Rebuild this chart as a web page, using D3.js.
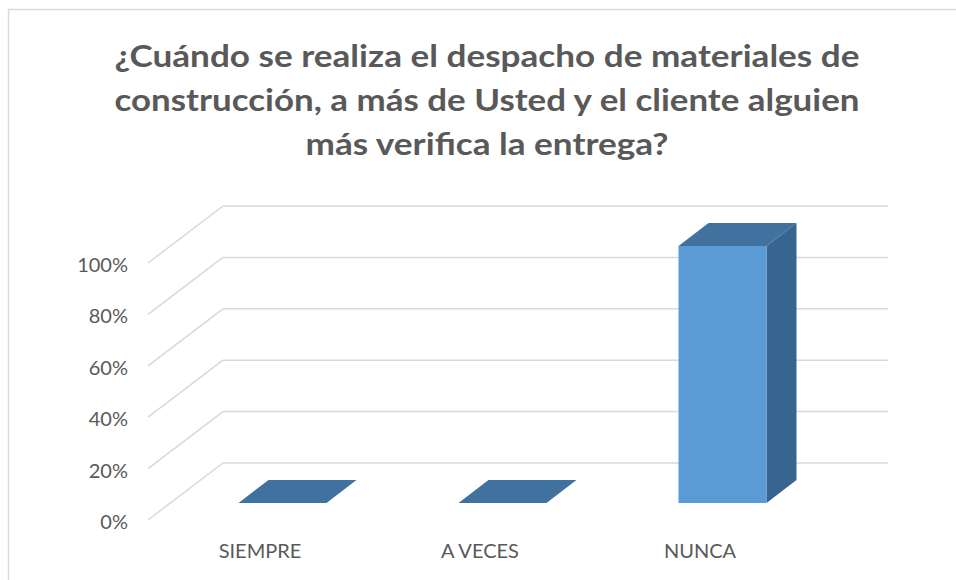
<!DOCTYPE html>
<html>
<head>
<meta charset="utf-8">
<script src="https://cdn.jsdelivr.net/npm/d3@7"></script>
<style>
  html, body { margin: 0; padding: 0; background: #fff; }
  svg { display: block; }
</style>
</head>
<body>
<svg id="chart" width="956" height="580"></svg>
<script>
// ---- data ----
const categories = ["SIEMPRE", "A VECES", "NUNCA"];
const values = [0, 0, 1];
const tickValues = [0, 0.2, 0.4, 0.6, 0.8, 1.0];
const titleLines = [
  "¿Cuándo se realiza el despacho de materiales de",
  "construcción, a más de Usted y el cliente alguien",
  "más verifica la entrega?"
];

// ---- layout ----
const svg = d3.select("#chart");
const textColor = "#595959";
const gridColor = "#d9d9d9";
const depthDx = 75, depthDy = -57;   // oblique depth of the floor
const z0 = 0.30, z1 = 0.70;          // bar depth range
const floorLeft = 148, wallRight = 888;

const y = d3.scaleLinear().domain([0, 1]).range([520, 263]);
const x = d3.scaleBand().domain(categories).range([150, 810])
  .paddingInner(0.6).paddingOuter(0.3);

// chart border
svg.append("rect").attr("x", 8.5).attr("y", 9.5).attr("width", 1000).attr("height", 700)
  .attr("fill", "none").attr("stroke", gridColor).attr("stroke-width", 1.5);

// title
const title = svg.append("g").attr("font-family", "Lato, 'Open Sans', sans-serif")
  .attr("font-weight", "bold").attr("fill", textColor).attr("font-size", 30);
const titleWidths = [745, 745, 363];
titleLines.forEach((t, i) => {
  title.append("text").attr("x", 487).attr("y", 67 + i * 44)
    .attr("text-anchor", "middle")
    .attr("textLength", titleWidths[i]).attr("lengthAdjust", "spacingAndGlyphs")
    .text(t);
});

// gridlines: back wall + left wall diagonals
const grid = svg.append("g").attr("stroke", gridColor).attr("stroke-width", 1.5).attr("fill", "none");
tickValues.forEach(t => {
  grid.append("line")
    .attr("x1", floorLeft + depthDx).attr("y1", y(t) + depthDy)
    .attr("x2", wallRight).attr("y2", y(t) + depthDy);
  grid.append("line")
    .attr("x1", floorLeft).attr("y1", y(t))
    .attr("x2", floorLeft + depthDx).attr("y2", y(t) + depthDy);
});

// y axis labels
const fmt = d3.format(".0%");
svg.append("g").attr("font-family", "Lato, 'Open Sans', sans-serif").attr("font-size", 20)
  .attr("fill", textColor)
  .selectAll("text").data(tickValues).join("text")
  .attr("x", 128).attr("y", d => y(d) + 2).attr("dy", "0.35em")
  .attr("text-anchor", "end").text(d => fmt(d));

// x axis labels
svg.append("g").attr("font-family", "Lato, 'Open Sans', sans-serif").attr("font-size", 20)
  .attr("fill", textColor)
  .selectAll("text").data(categories).join("text")
  .attr("x", d => x(d) + x.bandwidth() / 2).attr("y", 558)
  .attr("text-anchor", "middle").text(d => d);

// bars
const bars = svg.append("g");
categories.forEach((c, i) => {
  const v = values[i];
  const bx = x(c), bw = x.bandwidth();
  const xf0 = bx + z0 * depthDx, xf1 = bx + bw + z0 * depthDx;
  const xb0 = bx + z1 * depthDx, xb1 = bx + bw + z1 * depthDx;
  const yfTop = y(v) + z0 * depthDy, yfBot = y(0) + z0 * depthDy;
  const ybTop = y(v) + z1 * depthDy, ybBot = y(0) + z1 * depthDy;
  const g = bars.append("g");
  if (v > 0) {
    g.append("path").attr("d", `M${xf1},${yfTop}L${xb1},${ybTop}L${xb1},${ybBot}L${xf1},${yfBot}Z`)
      .attr("fill", "#376590");
    g.append("path").attr("d", `M${xf0},${yfTop}L${xf1},${yfTop}L${xf1},${yfBot}L${xf0},${yfBot}Z`)
      .attr("fill", "#5b9bd5");
  }
  g.append("path").attr("d", `M${xf0},${yfTop}L${xf1},${yfTop}L${xb1},${ybTop}L${xb0},${ybTop}Z`)
    .attr("fill", "#41719f");
});
</script>
</body>
</html>
